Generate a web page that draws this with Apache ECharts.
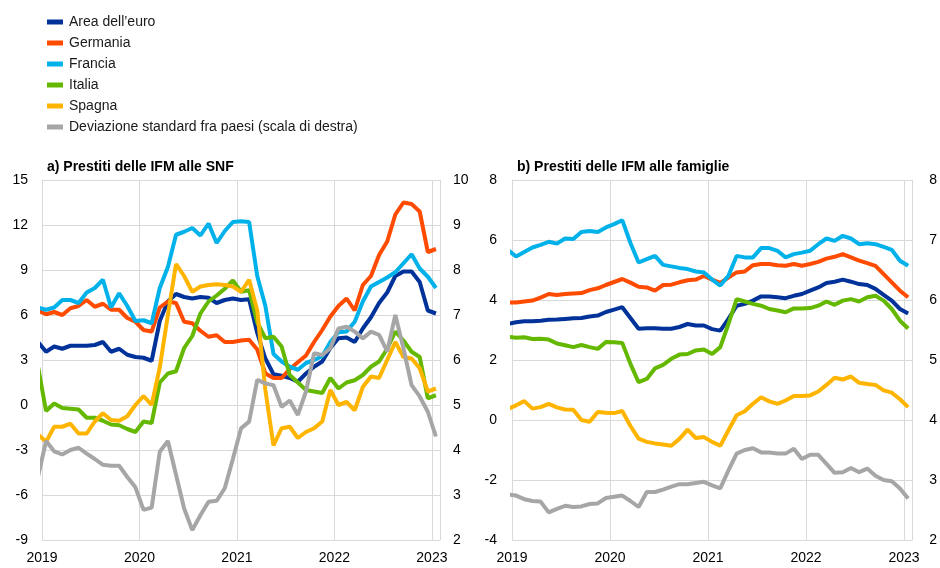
<!DOCTYPE html>
<html>
<head>
<meta charset="utf-8">
<script src="https://cdn.jsdelivr.net/npm/echarts@6/dist/echarts.min.js"></script>
<style>
  html, body { margin: 0; padding: 0; background: #fff; }
  #chart { width: 940px; height: 568px; }
</style>
</head>
<body>
<div id="chart"></div>
<script>
// mesi da dic 2018 a gen 2023 (il primo punto e' tagliato dal bordo)
var months = [];
for (var y = 2018; y <= 2023; y++) {
  for (var m = 1; m <= 12; m++) {
    if ((y === 2018 && m < 12) || (y === 2023 && m > 1)) continue;
    months.push(y + '-' + (m < 10 ? '0' + m : m));
  }
}
var yearLabels = ['2019', '2020', '2021', '2022', '2023'];

var names = ['Area dell\u2019euro', 'Germania', 'Francia', 'Italia', 'Spagna', 'Deviazione standard fra paesi (scala di destra)'];
var colors = ['#003299', '#ff4b00', '#00b1ea', '#65b800', '#ffb400', '#a6a6a6'];

// a) prestiti alle SNF
var snfEuro = [4.2, 3.55, 3.9, 3.75, 3.95, 3.95, 3.95, 4.0, 4.2, 3.55, 3.75, 3.35, 3.2, 3.15, 2.95, 5.6, 6.9, 7.4, 7.2, 7.1, 7.2, 7.15, 6.8, 7.0, 7.1, 7.0, 7.05, 4.8, 3.1, 2.05, 1.95, 1.8, 1.55, 2.1, 2.55, 2.9, 3.8, 4.45, 4.5, 4.2, 5.1, 5.85, 6.8, 7.5, 8.6, 8.9, 8.9, 8.2, 6.3, 6.1];
var snfDE = [6.3, 6.05, 6.2, 6.0, 6.45, 6.6, 7.0, 6.55, 6.75, 6.35, 6.35, 5.8, 5.55, 5.0, 4.9, 6.5, 6.9, 6.8, 5.55, 5.45, 4.95, 4.55, 4.65, 4.2, 4.2, 4.3, 4.35, 3.7, 2.1, 1.8, 1.8, 2.4, 2.85, 3.3, 4.2, 5.0, 5.9, 6.6, 7.1, 6.3, 8.0, 8.6, 10.0, 10.9, 12.7, 13.5, 13.4, 12.9, 10.2, 10.4];
var snfFR = [6.5, 6.35, 6.5, 7.0, 7.0, 6.8, 7.5, 7.8, 8.35, 6.5, 7.45, 6.6, 5.6, 5.65, 5.45, 7.8, 9.2, 11.35, 11.55, 11.8, 11.3, 12.1, 10.8, 11.6, 12.2, 12.25, 12.2, 8.6, 6.6, 3.4, 2.9, 2.55, 2.35, 2.8, 3.0, 3.25, 4.2, 4.85, 4.9, 5.55, 6.9, 7.9, 8.2, 8.5, 8.85, 9.45, 10.05, 9.1, 8.55, 7.8];
var snfIT = [2.6, -0.4, 0.1, -0.2, -0.25, -0.3, -0.85, -0.85, -1.05, -1.3, -1.35, -1.6, -1.8, -1.1, -1.2, 1.5, 2.1, 2.25, 3.8, 4.6, 6.1, 6.9, 7.3, 7.75, 8.3, 7.55, 7.65, 5.5, 4.45, 4.55, 3.9, 2.0, 1.5, 1.0, 0.9, 0.8, 1.8, 1.1, 1.5, 1.65, 2.0, 2.55, 2.9, 3.75, 4.9, 4.3, 3.55, 3.2, 0.45, 0.65];
var snfES = [-1.95, -2.45, -1.45, -1.45, -1.25, -1.9, -1.9, -1.1, -0.55, -1.0, -1.05, -0.75, 0.0, 0.6, 0.0, 2.5, 6.0, 9.4, 8.6, 7.55, 7.9, 8.0, 8.05, 8.0, 7.9, 7.55, 8.35, 6.3, 1.0, -2.7, -1.55, -1.45, -2.2, -1.8, -1.55, -1.1, 1.0, 0.0, 0.2, -0.35, 1.2, 1.9, 1.8, 3.0, 4.2, 3.2, 3.1, 2.45, 0.9, 1.1];
var snfStd = [3.4, 4.2, 3.97, 3.9, 4.0, 4.05, 3.92, 3.8, 3.67, 3.65, 3.65, 3.4, 3.17, 2.67, 2.72, 3.96, 4.2, 3.45, 2.7, 2.22, 2.55, 2.85, 2.87, 3.15, 3.8, 4.48, 4.63, 5.56, 5.48, 5.44, 4.96, 5.1, 4.78, 5.3, 6.15, 6.11, 6.26, 6.7, 6.74, 6.63, 6.48, 6.63, 6.56, 6.19, 7.0, 6.26, 5.44, 5.19, 4.85, 4.3];

// b) prestiti alle famiglie
var famEuro = [3.2, 3.26, 3.29, 3.29, 3.31, 3.34, 3.35, 3.37, 3.39, 3.4, 3.45, 3.48, 3.6, 3.68, 3.76, 3.4, 3.04, 3.06, 3.06, 3.04, 3.04, 3.1, 3.2, 3.15, 3.15, 3.03, 2.98, 3.37, 3.81, 3.87, 3.98, 4.12, 4.12, 4.09, 4.06, 4.14, 4.2, 4.31, 4.42, 4.57, 4.61, 4.68, 4.61, 4.53, 4.5, 4.37, 4.17, 3.98, 3.7, 3.55];
var famDE = [3.92, 3.92, 3.95, 3.98, 4.08, 4.2, 4.17, 4.2, 4.22, 4.23, 4.33, 4.39, 4.5, 4.6, 4.7, 4.58, 4.44, 4.42, 4.31, 4.5, 4.51, 4.59, 4.66, 4.68, 4.8, 4.68, 4.57, 4.75, 4.92, 4.95, 5.16, 5.2, 5.2, 5.16, 5.14, 5.2, 5.14, 5.2, 5.27, 5.38, 5.44, 5.53, 5.42, 5.31, 5.23, 5.14, 4.86, 4.59, 4.31, 4.09];
var famFR = [5.67, 5.45, 5.6, 5.75, 5.84, 5.94, 5.88, 6.05, 6.03, 6.27, 6.3, 6.27, 6.42, 6.53, 6.66, 5.9, 5.25, 5.36, 5.47, 5.17, 5.12, 5.07, 5.03, 4.95, 4.92, 4.68, 4.48, 4.81, 5.47, 5.42, 5.42, 5.73, 5.73, 5.64, 5.42, 5.53, 5.58, 5.64, 5.86, 6.05, 5.97, 6.14, 6.05, 5.86, 5.89, 5.86, 5.77, 5.67, 5.31, 5.14];
var famIT = [2.78, 2.74, 2.76, 2.7, 2.71, 2.68, 2.55, 2.49, 2.43, 2.5, 2.43, 2.37, 2.6, 2.59, 2.57, 1.87, 1.26, 1.37, 1.72, 1.84, 2.04, 2.18, 2.2, 2.32, 2.35, 2.2, 2.43, 3.2, 4.03, 3.95, 3.87, 3.81, 3.7, 3.65, 3.59, 3.72, 3.72, 3.73, 3.81, 3.95, 3.84, 3.98, 4.03, 3.95, 4.09, 4.14, 3.98, 3.7, 3.31, 3.05];
var famES = [0.37, 0.49, 0.63, 0.38, 0.43, 0.54, 0.42, 0.35, 0.34, 0.0, -0.06, 0.27, 0.24, 0.23, 0.3, -0.2, -0.62, -0.73, -0.78, -0.82, -0.86, -0.63, -0.32, -0.6, -0.57, -0.73, -0.86, -0.34, 0.16, 0.29, 0.54, 0.76, 0.62, 0.54, 0.65, 0.8, 0.8, 0.82, 0.95, 1.17, 1.41, 1.35, 1.45, 1.24, 1.2, 1.17, 0.99, 0.91, 0.69, 0.43];
var famStd = [2.76, 2.74, 2.68, 2.65, 2.64, 2.46, 2.52, 2.57, 2.55, 2.56, 2.6, 2.61, 2.7, 2.72, 2.74, 2.65, 2.55, 2.8, 2.8, 2.84, 2.89, 2.93, 2.93, 2.95, 2.97, 2.91, 2.86, 3.16, 3.44, 3.5, 3.53, 3.46, 3.46, 3.44, 3.44, 3.52, 3.35, 3.42, 3.42, 3.27, 3.12, 3.13, 3.2, 3.13, 3.19, 3.07, 3.0, 2.98, 2.86, 2.69];

var font = 'Liberation Sans, Arial, sans-serif';
var gridColor = '#d9d9d9';

// posizione a meta' mese, in mesi da gen 2019
function monthPos(label) {
  var p = label.split('-');
  return (parseInt(p[0]) - 2019) * 12 + parseInt(p[1]) - 1 + 0.5;
}
function toPoints(values) {
  return values.map(function (v, i) { return [monthPos(months[i]), v]; });
}

function makeX(gridIndex) {
  return {
    type: 'value', gridIndex: gridIndex, min: 0, max: 49, interval: 12,
    axisLine: { show: true, lineStyle: { color: gridColor } },
    axisTick: { show: false },
    splitLine: { show: true, lineStyle: { color: gridColor, width: 1 } },
    axisLabel: {
      color: '#000', fontSize: 14, fontFamily: font, margin: 11,
      formatter: function (v) { return v % 12 === 0 ? yearLabels[v / 12] : ''; }
    }
  };
}
function makeY(gridIndex, min, max, interval, pos, split, margin) {
  return {
    type: 'value', gridIndex: gridIndex, position: pos, min: min, max: max, interval: interval,
    axisLine: { show: true, lineStyle: { color: gridColor } },
    axisTick: { show: false },
    splitLine: { show: split, lineStyle: { color: gridColor, width: 1 } },
    axisLabel: { color: '#000', fontSize: 14, fontFamily: font, margin: margin }
  };
}

var panels = [
  [snfEuro, snfDE, snfFR, snfIT, snfES, snfStd],
  [famEuro, famDE, famFR, famIT, famES, famStd]
];
var series = [];
panels.forEach(function (set, g) {
  set.forEach(function (vals, k) {
    series.push({
      name: names[k],
      type: 'line',
      xAxisIndex: g,
      yAxisIndex: k === 5 ? g * 2 + 1 : g * 2,
      data: toPoints(vals),
      showSymbol: false,
      clip: true,
      lineStyle: { width: 4, color: colors[k] },
      itemStyle: { color: colors[k] }
    });
  });
});

var chart = echarts.init(document.getElementById('chart'));
chart.setOption({
  animation: false,
  backgroundColor: '#fff',
  textStyle: { fontFamily: font },
  title: [
    { text: 'a) Prestiti delle IFM alle SNF', left: 42, top: 155, textStyle: { fontSize: 14, fontWeight: 'bold', color: '#000', fontFamily: font } },
    { text: 'b) Prestiti delle IFM alle famiglie', left: 512, top: 155, textStyle: { fontSize: 14, fontWeight: 'bold', color: '#000', fontFamily: font } }
  ],
  legend: {
    orient: 'vertical', left: 42, top: 9,
    icon: 'rect', itemWidth: 16, itemHeight: 5, itemGap: 5,
    data: names,
    textStyle: { fontSize: 14, lineHeight: 16, color: '#1a1a1a', fontFamily: font, padding: [0, 0, 0, 1] }
  },
  grid: [
    { left: 42, top: 180, width: 398, height: 360 },
    { left: 512, top: 180, width: 403, height: 360 }
  ],
  xAxis: [makeX(0), makeX(1)],
  yAxis: [
    makeY(0, -9, 15, 3, 'left', true, 14),
    makeY(0, 2, 10, 1, 'right', false, 13),
    makeY(1, -4, 8, 2, 'left', true, 15),
    makeY(1, 2, 8, 1, 'right', false, 17)
  ],
  series: series
});
</script>
</body>
</html>
